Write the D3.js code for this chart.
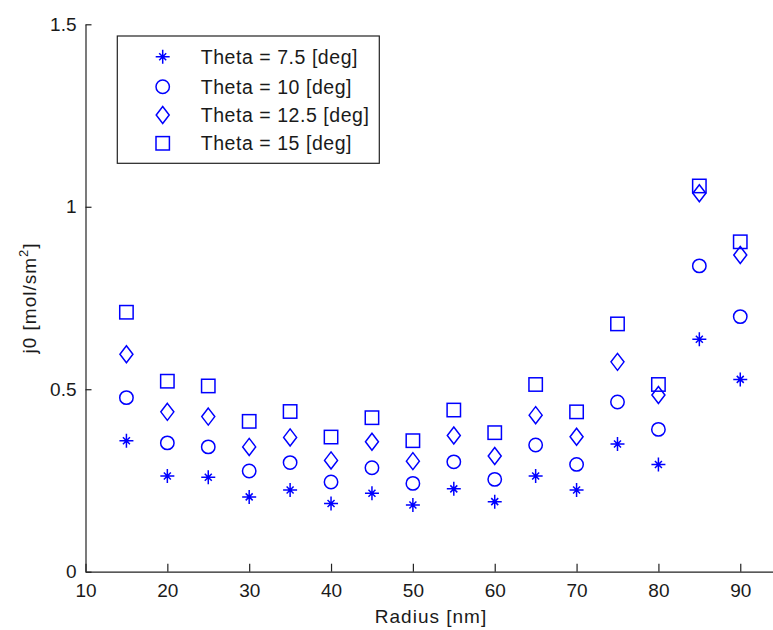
<!DOCTYPE html>
<html><head><meta charset="utf-8">
<script src="https://cdn.jsdelivr.net/npm/d3@7"></script>
<style>
body{margin:0;background:#fff;}
text{font-family:"Liberation Sans",Arial,sans-serif;fill:#1a1a1a;}
</style></head>
<body><svg id="c" width="773" height="630"></svg>
<script>
const radius = [15,20,25,30,35,40,45,50,55,60,65,70,75,80,85,90];
const theta75  = [0.359,0.262,0.259,0.205,0.224,0.187,0.215,0.183,0.227,0.192,0.262,0.224,0.350,0.294,0.637,0.527];
const theta10  = [0.477,0.353,0.342,0.276,0.299,0.246,0.285,0.242,0.301,0.253,0.347,0.294,0.465,0.390,0.838,0.699];
const theta125 = [0.596,0.438,0.425,0.342,0.368,0.305,0.356,0.303,0.373,0.317,0.429,0.370,0.575,0.484,1.037,0.868];
const theta15  = [0.711,0.522,0.509,0.412,0.439,0.369,0.422,0.359,0.443,0.381,0.513,0.438,0.679,0.513,1.057,0.904];
const seriesNames = ["Theta = 7.5 [deg]","Theta = 10 [deg]","Theta = 12.5 [deg]","Theta = 15 [deg]"];
const seriesMarkers = ["star","circle","diamond","square"];
const xTicks = [10,20,30,40,50,60,70,80,90];
const yTicks = [0,0.5,1,1.5];

const series = [theta75, theta10, theta125, theta15].map((vals,i)=>({name:seriesNames[i], marker:seriesMarkers[i], values:vals}));

const svg = d3.select("#c");
const x = d3.scaleLinear().domain([10,94]).range([85.5,773]);
const y = d3.scaleLinear().domain([0,1.5]).range([571.7,24.3]);
const blue = "#0000ff";

function drawMarker(g, type){
  const s = g.append("g").attr("fill","none").attr("stroke",blue).attr("stroke-width",1.5);
  if(type==="star"){
    s.append("path").attr("d","M-7,0H7M0,-7V7M-3.5,-3.5L3.5,3.5M-3.5,3.5L3.5,-3.5");
  } else if(type==="circle"){
    s.append("circle").attr("r",6.7);
  } else if(type==="diamond"){
    s.append("path").attr("d","M0,-8.5L6.5,0L0,8.5L-6.5,0Z");
  } else {
    s.append("rect").attr("x",-6.7).attr("y",-6.7).attr("width",13.4).attr("height",13.4);
  }
}

// axes
const xAxis = svg.append("g").attr("transform",`translate(0,${y(0)})`)
  .call(d3.axisBottom(x).tickValues(xTicks).tickSizeInner(-8).tickSizeOuter(0).tickPadding(11.5).tickFormat(d3.format("d")));
const yAxis = svg.append("g").attr("transform",`translate(${x(10)},0)`)
  .call(d3.axisLeft(y).tickValues(yTicks).tickSizeInner(-6).tickSizeOuter(0).tickPadding(9).tickFormat(d=>String(d)));
[xAxis,yAxis].forEach(a=>{
  a.selectAll("path.domain").attr("stroke","#222").attr("stroke-width",1.2);
  a.selectAll("line").attr("stroke","#222").attr("stroke-width",1.2);
  a.selectAll("text").attr("font-size",19).attr("fill","#1a1a1a").style("font-family","'Liberation Sans',Arial,sans-serif");
});

// points
series.forEach(s=>{
  s.values.forEach((v,i)=>{
    const g = svg.append("g").attr("transform",`translate(${x(radius[i])},${y(v)})`);
    drawMarker(g, s.marker);
  });
});

// labels
svg.append("text").attr("x",431).attr("y",623).attr("text-anchor","middle").attr("font-size",19).attr("letter-spacing",1).text("Radius [nm]");
const yl = svg.append("text").attr("transform","translate(36,298) rotate(-90)").attr("text-anchor","middle").attr("font-size",19).attr("letter-spacing",1);
yl.append("tspan").text("j0 [mol/sm");
yl.append("tspan").attr("font-size",13).attr("dy",-8).text("2");
yl.append("tspan").attr("dy",8).text("]");

// legend
const lg = svg.append("g");
lg.append("rect").attr("x",117.3).attr("y",36).attr("width",262).attr("height",127.3).attr("fill","#fff").attr("stroke","#222").attr("stroke-width",1.2);
const rowY = [56.7,86.7,115,143.3];
series.forEach((s,i)=>{
  const g = lg.append("g").attr("transform",`translate(162.7,${rowY[i]})`);
  drawMarker(g, s.marker);
  lg.append("text").attr("x",200.7).attr("y",rowY[i]+7).attr("font-size",19.5).attr("letter-spacing",0.55).text(s.name);
});
</script></body></html>
